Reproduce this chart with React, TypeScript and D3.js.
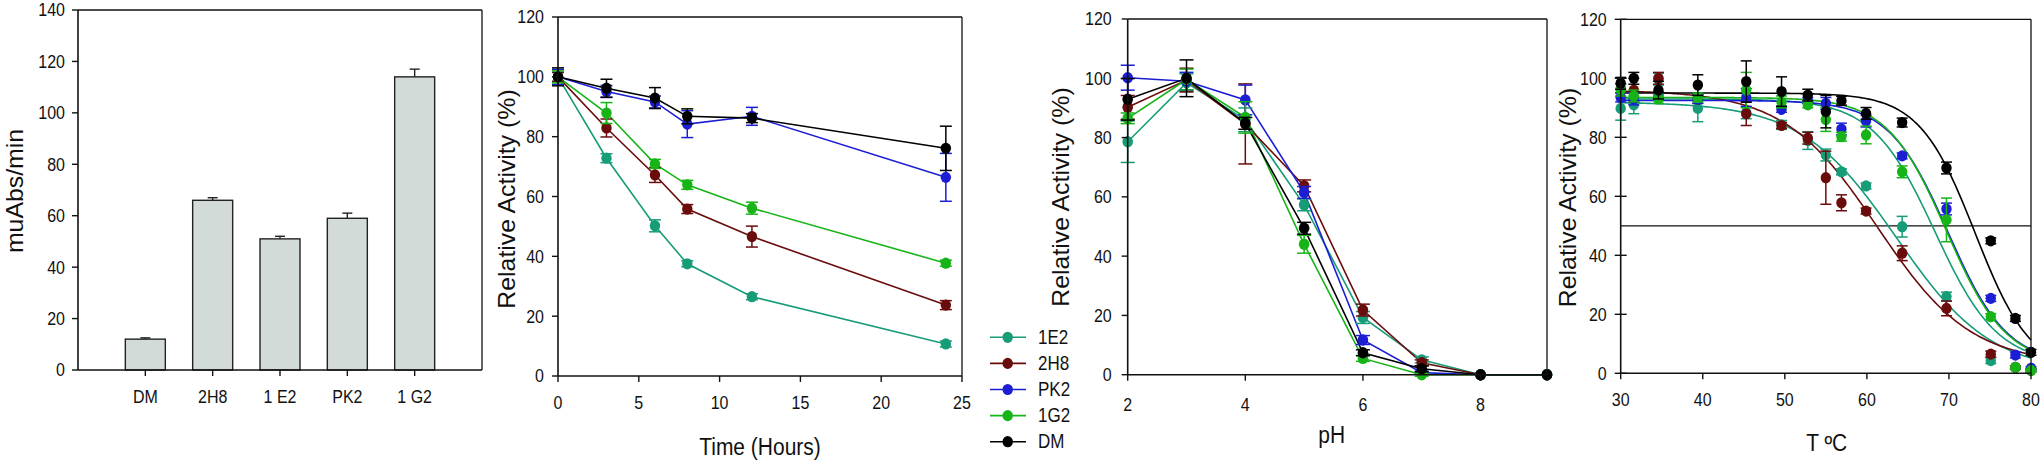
import React from "react";
import * as d3 from "d3";

// ---------- DATA ----------
// Panel 1: bar chart
const barCategories = ["DM", "2H8", "1 E2", "PK2", "1 G2"];
const barValues = [12, 66, 51, 59, 114];
const barErrors = [0.5, 1, 1, 2, 3];
const barTicks = [0, 20, 40, 60, 80, 100, 120, 140];

// Series (shared)
const seriesNames = ["1E2", "2H8", "PK2", "1G2", "DM"];
const seriesColors = ["#179c78", "#6b0c0c", "#1c1ed4", "#16b416", "#000000"];

// Panel 2: time
const timeX = [0, 3, 6, 8, 12, 24];
const time1E2 = [100, 72.8, 50.2, 37.5, 26.5, 10.7];
const time1E2Err = [1.5, 1.5, 2, 1, 1, 1];
const time2H8 = [100, 82.9, 67.2, 55.8, 46.6, 23.7];
const time2H8Err = [1.5, 3, 2.5, 1.5, 3.5, 1.5];
const timePK2 = [100, 95.1, 91.6, 84.2, 86.8, 66.4];
const timePK2Err = [2.5, 2, 2, 4.5, 3, 8];
const time1G2 = [100, 87.9, 70.9, 63.9, 56.1, 37.7];
const time1G2Err = [2, 3.5, 1.5, 1.5, 2, 1];
const timeDM = [100, 96.2, 92.9, 86.8, 86.2, 76.1];
const timeDMErr = [3, 3, 3.5, 2.5, 1.5, 7.4];
const timeXTicks = [0, 5, 10, 15, 20, 25];

// Panel 3: pH
const phX = [2, 3, 4, 5, 6, 7, 8, 9.13];
const ph1E2 = [78.6, 98.5, 86, 57.3, 19.3, 5, 0, 0];
const ph1E2Err = [7, 3, 4, 2, 2, 1, 0, 0];
const ph2H8 = [90.2, 99.4, 84.6, 63.7, 21.8, 4, 0, 0];
const ph2H8Err = [4, 4, 13.5, 2, 2, 1, 0, 0];
const phPK2 = [100.2, 99, 92.7, 61.5, 11.7, 0.7, 0, 0];
const phPK2Err = [4.2, 3, 5, 2, 1.5, 0.5, 0, 0];
const ph1G2 = [86.5, 99.6, 86.8, 44, 5.5, 0, 0, 0];
const ph1G2Err = [1.8, 3.5, 5.3, 3, 1, 0.5, 0, 0];
const phDM = [92.9, 100, 84.8, 49.4, 7.4, 2, 0, 0];
const phDMErr = [7, 6.2, 2, 2, 1, 1, 0, 0];
const phXTicks = [2, 4, 6, 8];

// Panel 4: temperature
const tempX = [30, 31.6, 34.6, 39.4, 45.3, 49.6, 52.8, 55.0, 56.9, 59.9, 64.3, 69.7, 75.1, 78.1, 80];
const temp1E2 = [89.8, 91, 99.7, 89.8, 88.3, 84.2, 78.9, 74, 68.3, 63.5, 49.7, 26, 4.3, 2, 1.1];
const temp1E2Err = [4, 3, 2, 4.5, 2, 1.5, 3, 2, 1, 1, 3.5, 1.5, 1, 0.5, 0.5];
const temp2H8 = [96.5, 96, 100, 93, 88, 84, 79.7, 66.3, 57.8, 55, 40.7, 22, 6.5, 2, 1];
const temp2H8Err = [1.5, 4, 2, 1.5, 4, 1, 2, 9, 2.7, 1, 2.5, 2.5, 1, 0.5, 0.5];
const tempPK2 = [93.5, 93, 94, 93, 93.5, 89.5, 92.5, 91.5, 82.8, 85.5, 73.7, 55.7, 25.4, 6.2, 1.7];
const tempPK2Err = [1.5, 2, 1.5, 1.5, 3, 1, 1, 2, 2, 2, 1, 2, 1, 1, 0.5];
const temp1G2 = [96, 94, 93, 93.5, 96, 92, 91, 86, 80.2, 80.8, 68.3, 52, 19.2, 2, 1];
const temp1G2Err = [2, 2, 1.5, 1.5, 6, 2, 1, 4, 1.5, 3, 2, 7.4, 1, 0.5, 0.5];
const tempDM = [98.3, 100, 96, 97.7, 98.9, 95.5, 94.3, 88.7, 92.4, 88.1, 85, 69.6, 44.9, 18.6, 7.1];
const tempDMErr = [2, 2, 3, 3.5, 7, 5, 2, 5.5, 1.5, 2, 1.5, 2, 1, 1, 1];
const tempXTicks = [30, 40, 50, 60, 70, 80];
const tempRefLine = 50;

// Panel 4: sigmoid (Boltzmann) fit parameters
const fitColorIdx = [0, 0, 1, 2, 3, 4];
const fitTop = [92, 93, 96, 92.5, 93.5, 95];
const fitBottom = [0, 3, 3, 3, 3, 0];
const fitMid = [63.6, 68.3, 61.3, 69.9, 69.7, 73.2];
const fitSlope = [5.8, 3.8, 5.7, 3.6, 3.6, 3.4];

const pctTicks = [0, 20, 40, 60, 80, 100, 120];

// ---------- STYLE ----------
const FONT = "'Liberation Sans', Arial, Helvetica, sans-serif";
const SY = 1.14;
const AX = "#111";

type TxtProps = {
  x: number; y: number; size: number; anchor?: string; rot?: boolean; sy?: number; children: React.ReactNode;
};
function Txt({ x, y, size, anchor = "middle", rot = false, sy = SY, children }: TxtProps) {
  return (
    <text
      transform={`translate(${x},${y}) scale(1,${sy})${rot ? " rotate(-90)" : ""}`}
      textAnchor={anchor}
      dominantBaseline="central"
      fontSize={size}
      fontFamily={FONT}
      fill="#111"
    >
      {children}
    </text>
  );
}

type Scale = d3.ScaleLinear<number, number>;

function Frame({ x, y, yTicks, xTicks, tickMode, labelGap }: {
  x: Scale; y: Scale; yTicks: number[]; xTicks: number[]; tickMode: "out" | "cross"; labelGap: number;
}) {
  const [x0, x1] = x.range();
  const [y0, y1] = y.range();
  return (
    <g>
      <line x1={x0} x2={x1} y1={y1} y2={y1} stroke={AX} strokeWidth={1.3} />
      <line x1={x1} x2={x1} y1={y1} y2={y0} stroke={AX} strokeWidth={1.3} />
      <line x1={x0} x2={x0} y1={y0} y2={y1} stroke={AX} strokeWidth={1.6} />
      <line x1={x0} x2={x1} y1={y0} y2={y0} stroke={AX} strokeWidth={1.6} />
      {yTicks.map((t) => (
        <g key={"y" + t}>
          <line x1={x0 - 6} x2={tickMode === "cross" ? x0 + 6 : x0} y1={y(t)} y2={y(t)} stroke={AX} strokeWidth={1.4} />
          <Txt x={x0 - labelGap} y={y(t)} size={16} anchor="end">{t}</Txt>
        </g>
      ))}
      {xTicks.map((t) => (
        <g key={"x" + t}>
          <line x1={x(t)} x2={x(t)} y1={y0} y2={y0 + 6} stroke={AX} strokeWidth={1.4} />
        </g>
      ))}
    </g>
  );
}

type Series = { vals: number[]; errs: number[]; color: string };

function Points({ xs, series, x, y, cap, r, lines }: {
  xs: number[]; series: Series[]; x: Scale; y: Scale; cap: number; r: number; lines: boolean;
}) {
  const line = d3.line<number>().x((_, i) => x(xs[i])).y((v) => y(v));
  return (
    <g>
      {lines && series.map((s, k) => (
        <path key={"l" + k} d={line(s.vals) || ""} fill="none" stroke={s.color} strokeWidth={1.6} />
      ))}
      {series.map((s, k) => (
        <g key={"s" + k}>
          {s.vals.map((v, i) => {
            const e = s.errs[i];
            const cx = x(xs[i]);
            if (e <= 0.3) return null;
            return (
              <g key={i} stroke={s.color} strokeWidth={1.5}>
                <line x1={cx} x2={cx} y1={y(v - e)} y2={y(v + e)} />
                <line x1={cx - cap} x2={cx + cap} y1={y(v - e)} y2={y(v - e)} />
                <line x1={cx - cap} x2={cx + cap} y1={y(v + e)} y2={y(v + e)} />
              </g>
            );
          })}
          {s.vals.map((v, i) => (
            <ellipse key={"m" + i} cx={x(xs[i])} cy={y(v)} rx={r} ry={r * 1.08} fill={s.color} />
          ))}
        </g>
      ))}
    </g>
  );
}

export default function App() {
  // Panel 1
  const bx = d3.scalePoint<string>().domain(barCategories).range([78, 482]).padding(1);
  const by = d3.scaleLinear().domain([0, 140]).range([370, 10]);
  const barW = 40;

  // Panel 2
  const tx = d3.scaleLinear().domain([0, 25]).range([558, 962]);
  const ty = d3.scaleLinear().domain([0, 120]).range([376, 17]);
  const timeSeries: Series[] = [
    { vals: time1E2, errs: time1E2Err, color: seriesColors[0] },
    { vals: time2H8, errs: time2H8Err, color: seriesColors[1] },
    { vals: timePK2, errs: timePK2Err, color: seriesColors[2] },
    { vals: time1G2, errs: time1G2Err, color: seriesColors[3] },
    { vals: timeDM, errs: timeDMErr, color: seriesColors[4] },
  ];

  // Panel 3
  const px = d3.scaleLinear().domain([2, 9.13]).range([1127.7, 1547]);
  const py = d3.scaleLinear().domain([0, 120]).range([374.7, 19]);
  const phSeries: Series[] = [
    { vals: ph1E2, errs: ph1E2Err, color: seriesColors[0] },
    { vals: ph2H8, errs: ph2H8Err, color: seriesColors[1] },
    { vals: phPK2, errs: phPK2Err, color: seriesColors[2] },
    { vals: ph1G2, errs: ph1G2Err, color: seriesColors[3] },
    { vals: phDM, errs: phDMErr, color: seriesColors[4] },
  ];

  // Panel 4
  const cx = d3.scaleLinear().domain([30, 80]).range([1620.7, 2031]);
  const cy = d3.scaleLinear().domain([0, 120]).range([373.3, 19.3]);
  const tempSeries: Series[] = [
    { vals: temp1E2, errs: temp1E2Err, color: seriesColors[0] },
    { vals: temp2H8, errs: temp2H8Err, color: seriesColors[1] },
    { vals: tempPK2, errs: tempPK2Err, color: seriesColors[2] },
    { vals: temp1G2, errs: temp1G2Err, color: seriesColors[3] },
    { vals: tempDM, errs: tempDMErr, color: seriesColors[4] },
  ];
  const fitXs = d3.range(30, 80.001, 0.25);
  const fitLine = (k: number) =>
    d3
      .line<number>()
      .x((t) => cx(t))
      .y((t) => cy(fitBottom[k] + (fitTop[k] - fitBottom[k]) / (1 + Math.exp((t - fitMid[k]) / fitSlope[k]))))(fitXs) || "";

  return (
    <svg
      width={2042}
      height={464}
      style={{ position: "absolute", left: 0, top: 0, background: "#fff" }}
    >
      <rect x={0} y={0} width={2042} height={464} fill="#fff" />

      {/* ---------- Panel 1 ---------- */}
      <g>
        <line x1={78} x2={482} y1={10} y2={10} stroke={AX} strokeWidth={1.3} />
        <line x1={482} x2={482} y1={10} y2={370} stroke={AX} strokeWidth={1.3} />
        {barCategories.map((c, i) => {
          const x0 = (bx(c) as number) - barW / 2;
          const top = by(barValues[i]);
          return (
            <g key={c}>
              <line x1={bx(c)} x2={bx(c)} y1={top} y2={by(barValues[i] + barErrors[i])} stroke="#222" strokeWidth={1.4} />
              <line x1={(bx(c) as number) - 5} x2={(bx(c) as number) + 5} y1={by(barValues[i] + barErrors[i])} y2={by(barValues[i] + barErrors[i])} stroke="#222" strokeWidth={1.4} />
              <rect x={x0} y={top} width={barW} height={by(0) - top} fill="#d3dbd8" stroke="#222" strokeWidth={1.4} />
              <line x1={bx(c)} x2={bx(c)} y1={370} y2={376} stroke={AX} strokeWidth={1.4} />
              <Txt x={bx(c) as number} y={397} size={16}>{c}</Txt>
            </g>
          );
        })}
        <line x1={78} x2={78} y1={370} y2={10} stroke={AX} strokeWidth={1.6} />
        <line x1={78} x2={482} y1={370} y2={370} stroke={AX} strokeWidth={1.6} />
        {barTicks.map((t) => (
          <g key={t}>
            <line x1={72} x2={78} y1={by(t)} y2={by(t)} stroke={AX} strokeWidth={1.4} />
            <Txt x={65} y={by(t)} size={16} anchor="end">{t}</Txt>
          </g>
        ))}
        <Txt x={15} y={191} size={23} rot sy={1.08}>muAbs/min</Txt>
      </g>

      {/* ---------- Panel 2 ---------- */}
      <g>
        <Points xs={timeX} series={timeSeries} x={tx} y={ty} cap={6} r={5.2} lines />
        <Frame x={tx} y={ty} yTicks={pctTicks} xTicks={timeXTicks} tickMode="out" labelGap={14} />
        {timeXTicks.map((t) => (
          <Txt key={t} x={tx(t)} y={403} size={16}>{t}</Txt>
        ))}
        <Txt x={507} y={199} size={23} rot sy={1.08}>Relative Activity (%)</Txt>
        <Txt x={760} y={447} size={21} sy={1.1}>Time (Hours)</Txt>
      </g>

      {/* ---------- Legend ---------- */}
      <g>
        {seriesNames.map((n, i) => {
          const ly = 337.3 + i * 26.1;
          return (
            <g key={n}>
              <line x1={990} x2={1026} y1={ly} y2={ly} stroke={seriesColors[i]} strokeWidth={1.6} />
              <ellipse cx={1007.7} cy={ly} rx={5.2} ry={5.6} fill={seriesColors[i]} />
              <Txt x={1038} y={ly} size={17} anchor="start">{n}</Txt>
            </g>
          );
        })}
      </g>

      {/* ---------- Panel 3 ---------- */}
      <g>
        <Points xs={phX} series={phSeries} x={px} y={py} cap={7} r={5.3} lines />
        <Frame x={px} y={py} yTicks={pctTicks} xTicks={phXTicks} tickMode="out" labelGap={16} />
        {phXTicks.map((t) => (
          <Txt key={t} x={px(t)} y={405} size={16}>{t}</Txt>
        ))}
        <Txt x={1061} y={197} size={23} rot sy={1.08}>Relative Activity (%)</Txt>
        <Txt x={1331.7} y={435} size={21} sy={1.1}>pH</Txt>
      </g>

      {/* ---------- Panel 4 ---------- */}
      <g>
        <line x1={cx(30)} x2={cx(80)} y1={cy(tempRefLine)} y2={cy(tempRefLine)} stroke={AX} strokeWidth={1.2} />
        {fitColorIdx.map((ci, k) => (
          <path key={k} d={fitLine(k)} fill="none" stroke={seriesColors[ci]} strokeWidth={1.6} />
        ))}
        <Points xs={tempX} series={tempSeries} x={cx} y={cy} cap={5.5} r={5.2} lines={false} />
        <Frame x={cx} y={cy} yTicks={pctTicks} xTicks={tempXTicks} tickMode="cross" labelGap={14} />
        {tempXTicks.map((t) => (
          <Txt key={t} x={cx(t)} y={400} size={16}>{t}</Txt>
        ))}
        <Txt x={1568} y={197.5} size={23} rot sy={1.08}>Relative Activity (%)</Txt>
        <Txt x={1826.7} y={442.7} size={21} sy={1.1}>T ºC</Txt>
      </g>
    </svg>
  );
}
